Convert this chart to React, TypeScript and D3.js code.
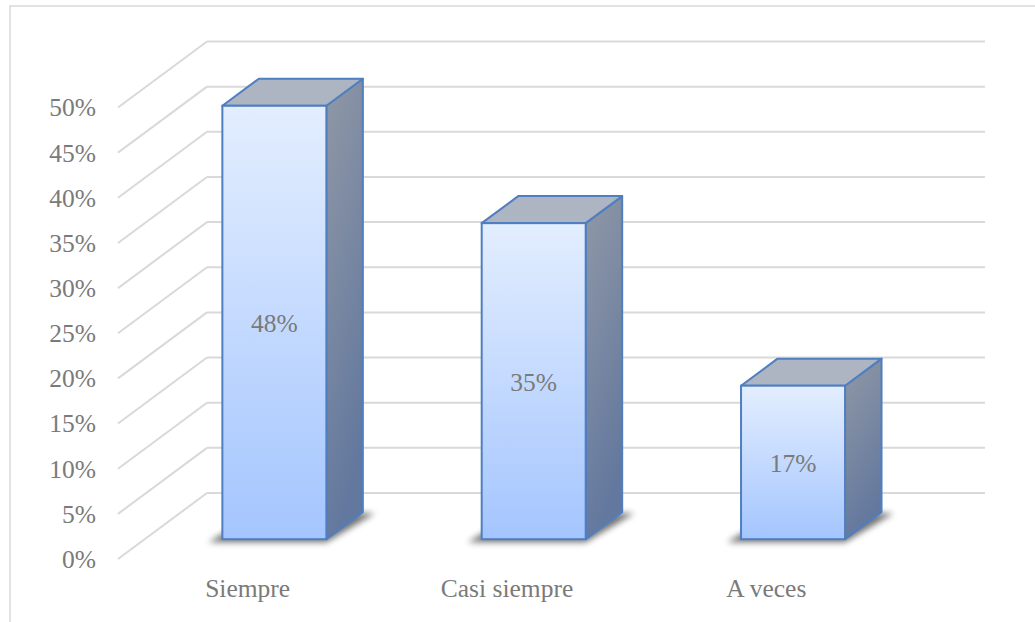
import React from 'react';
import * as d3 from 'd3';

// datos del gráfico
const categories = ['Siempre', 'Casi siempre', 'A veces'];
const values = [48, 35, 17];
const valueLabels = ['48%', '35%', '17%'];
const yTicks = [0, 5, 10, 15, 20, 25, 30, 35, 40, 45, 50];

const width = 1035;
const height = 622;

// plano frontal del eje y desplazamiento de profundidad (proyección oblicua)
const front = { left: 118, right: 896, bottom: 559, top: 107.5 };
const depth = { dx: 89, dy: -66 };
const barFrontZ = 0.3;
const barBackZ = 0.71;
const barWidth = 104;

const FONT = '"Liberation Serif", "DejaVu Serif", serif';
const FONT_SIZE = 25.5;

const App: React.FC = () => {
  const x = d3.scaleBand<string>().domain(categories).range([front.left, front.right]).padding(0);
  const y = d3.scaleLinear().domain([0, 50]).range([front.bottom, front.top]);

  const proj = (px: number, py: number, z: number): [number, number] => [px + depth.dx * z, py + depth.dy * z];
  const pts = (arr: [number, number][]) => arr.map(p => p.join(',')).join(' ');

  return (
    <div style={{ position: 'fixed', left: 0, top: 0 }}>
      <svg width={width} height={height} viewBox={`0 0 ${width} ${height}`} style={{ display: 'block', background: '#fff' }}>
        <defs>
          <linearGradient id="frontGrad" x1="0" y1="0" x2="0" y2="1">
            <stop offset="0%" stopColor="#E3EEFE" />
            <stop offset="100%" stopColor="#A4C5FE" />
          </linearGradient>
          <linearGradient id="sideGrad" x1="0" y1="0" x2="0.3" y2="1">
            <stop offset="0%" stopColor="#9098A6" />
            <stop offset="100%" stopColor="#63789E" />
          </linearGradient>
          <filter id="shadowBlur" x="-30%" y="-100%" width="160%" height="300%">
            <feGaussianBlur stdDeviation="3" />
          </filter>
        </defs>

        <rect x={10} y={6} width={width + 20} height={height + 20} fill="#fff" stroke="#D9D9D9" strokeWidth={1.5} />

        {/* líneas de cuadrícula */}
        <g stroke="#D9D9D9" strokeWidth={2} fill="none">
          {yTicks.map(t => {
            const [bx, by] = proj(front.left, y(t), 1);
            const [ex] = proj(front.right, y(t), 1);
            return (
              <g key={t}>
                <line x1={front.left} y1={y(t)} x2={bx} y2={by} />
                <line x1={bx} y1={by} x2={ex} y2={by} />
              </g>
            );
          })}
        </g>

        {/* barras 3D */}
        {categories.map((c, i) => {
          const cx = x(c)! + x.bandwidth() / 2;
          const l = cx - barWidth / 2;
          const r = cx + barWidth / 2;
          const fl = proj(l, y(0), barFrontZ);
          const fr = proj(r, y(0), barFrontZ);
          const tl = proj(l, y(values[i]), barFrontZ);
          const tr = proj(r, y(values[i]), barFrontZ);
          const btl = proj(l, y(values[i]), barBackZ);
          const btr = proj(r, y(values[i]), barBackZ);
          const bbr = proj(r, y(0), barBackZ);
          const bbl = proj(l, y(0), barBackZ);
          const shadow: [number, number][] = [
            [fl[0] - 14, fl[1] + 3], [fr[0], fr[1] + 3], [bbr[0] + 12, bbr[1] + 1], [bbl[0], bbl[1]]
          ];
          return (
            <g key={c}>
              <polygon points={pts(shadow)} fill="#000" opacity={0.55} filter="url(#shadowBlur)" />
              <polygon points={pts([tr, btr, bbr, fr])} fill="url(#sideGrad)" stroke="#4F7EC1" strokeWidth={2} strokeLinejoin="round" />
              <polygon points={pts([tl, btl, btr, tr])} fill="#ADB4C2" stroke="#4F7EC1" strokeWidth={2} strokeLinejoin="round" />
              <rect x={tl[0]} y={tl[1]} width={tr[0] - tl[0]} height={fl[1] - tl[1]} fill="url(#frontGrad)" stroke="#4F7EC1" strokeWidth={2} />
              <text
                x={(tl[0] + tr[0]) / 2}
                y={(tl[1] + fl[1]) / 2 + 4}
                textAnchor="middle"
                dominantBaseline="middle"
                fontFamily={FONT}
                fontSize={FONT_SIZE}
                fill="#7A7A7A"
              >
                {valueLabels[i]}
              </text>
            </g>
          );
        })}

        {/* etiquetas eje y */}
        {yTicks.map(t => (
          <text key={t} x={96} y={y(t) + 3} textAnchor="end" dominantBaseline="middle" fontFamily={FONT} fontSize={FONT_SIZE} fill="#7A7A7A">
            {`${t}%`}
          </text>
        ))}

        {/* etiquetas de categorías */}
        {categories.map(c => (
          <text key={c} x={x(c)! + x.bandwidth() / 2} y={597} textAnchor="middle" fontFamily={FONT} fontSize={FONT_SIZE} fill="#7A7A7A">
            {c}
          </text>
        ))}
      </svg>
    </div>
  );
};

export default App;
